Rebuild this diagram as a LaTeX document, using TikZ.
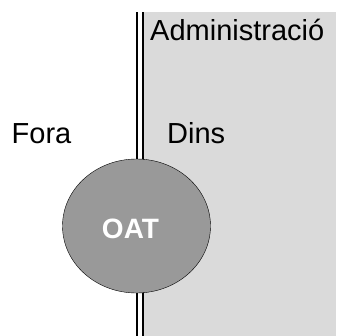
\documentclass[tikz,border=0pt]{standalone}
\usepackage{fontspec}
\setmainfont{Liberation Sans}
\usetikzlibrary{shapes.geometric}
\definecolor{admingrey}{HTML}{DADADA}
\definecolor{oatgrey}{HTML}{999999}

\begin{document}
\begin{tikzpicture}[x=1pt, y=-1pt,
        label/.style = {anchor=base west, inner sep=0pt, font=\fontsize{29}{31}\selectfont},
        main/.style = {draw, ellipse, fill=oatgrey, minimum width=148pt, minimum height=134pt, inner sep=0pt},
        oattext/.style = {inner sep=0pt, text=white, font=\fontsize{28}{30}\selectfont\bfseries}]
                \useasboundingbox (0, 0) rectangle (336, 336);
                \fill[admingrey] (143.5, 12.5) rectangle (336, 336);
                \draw[line width=1.3pt] (137, 12.5) -- (137, 336);
                \draw[line width=1.8pt] (143, 12.5) -- (143, 336);

                \node[label] at (150, 40.5) (admin) {Administració};
                \node[label] at (11.5, 144) (fora) {Fora};
                \node[label] at (167, 143.5) (dins) {Dins};
                \node[main] at (136.5, 226) (oat) {};
                \node[oattext] at (130.5, 228.5) (oatname) {OAT};
\end{tikzpicture}
\end{document}
